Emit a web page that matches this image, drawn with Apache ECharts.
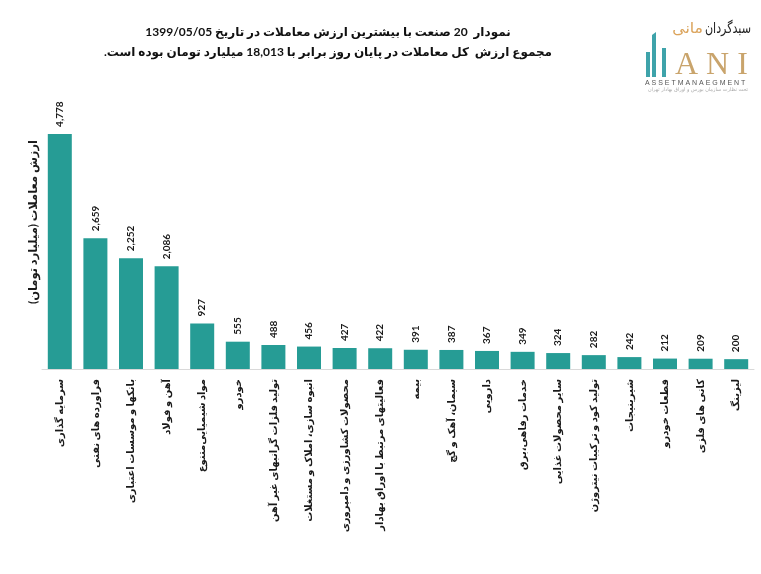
<!DOCTYPE html>
<html>
<head>
<meta charset="utf-8">
<script src="https://cdn.jsdelivr.net/npm/echarts@6/dist/echarts.min.js"></script>
<style>
html,body{margin:0;padding:0;background:#fff;}
#chart{width:761px;height:574px;}
</style>
</head>
<body>
<div id="chart"></div>
<script>
var RLM = '\u200F';
var titleLine1 = 'نمودار  20 صنعت با بیشترین ارزش معاملات در تاریخ 1399/05/05';
var titleLine2 = 'مجموع ارزش  کل معاملات در پایان روز برابر با 18,013 میلیارد تومان بوده است.';
var yAxisName = 'ارزش معاملات (میلیارد تومان)';
var categories = [
  'سرمایه گذاری',
  'فراورده های نفتی',
  'بانکها و موسسات اعتباری',
  'آهن و فولاد',
  'مواد شیمیایی‌متنوع',
  'خودرو',
  'تولید فلزات گرانبهای غیر آهن',
  'انبوه سازی، املاک و مستغلات',
  'محصولات کشاورزی و دامپروری',
  'فعالیتهای مرتبط با اوراق بهادار',
  'بیمه',
  'سیمان، آهک و گچ',
  'دارویی',
  'خدمات رفاهی،برق',
  'سایر محصولات غذایی',
  'تولید کود و ترکیبات نیتروژن',
  'شیرینیجات',
  'قطعات خودرو',
  'کانی های فلزی',
  'لیزینگ'
];
var values = [4778, 2659, 2252, 2086, 927, 555, 488, 456, 427, 422, 391, 387, 367, 349, 324, 282, 242, 212, 209, 200];

var FONT = 'Lato, "DejaVu Sans", sans-serif';
var chart = echarts.init(document.getElementById('chart'));
chart.setOption({
  backgroundColor: '#ffffff',
  animation: false,
  title: {
    text: titleLine1 + RLM + '\n' + titleLine2 + RLM,
    left: 323,
    top: 17,
    textAlign: 'center',
    textStyle: {
      fontFamily: FONT,
      fontSize: 12,
      fontWeight: 'bold',
      color: '#111',
      lineHeight: 20
    }
  },
  grid: { left: 42, right: 7, top: 123, height: 246 },
  xAxis: {
    type: 'category',
    data: categories,
    axisLine: { lineStyle: { color: '#d9d9d9', width: 1 } },
    axisTick: { show: false },
    axisLabel: {
      interval: 0,
      rotate: 90,
      margin: 10,
      fontFamily: FONT,
      fontSize: 10,
      fontWeight: 'bold',
      color: '#1a1a1a',
      formatter: function (v) { return v + RLM; }
    }
  },
  yAxis: {
    type: 'value',
    min: 0,
    max: 5000,
    show: false,
    splitLine: { show: false }
  },
  series: [{
    type: 'bar',
    data: values,
    barWidth: 24,
    itemStyle: { color: '#269c95' },
    label: {
      show: true,
      position: 'top',
      distance: 7,
      rotate: 90,
      align: 'left',
      verticalAlign: 'middle',
      fontFamily: FONT,
      fontSize: 10,
      fontWeight: 'bold',
      color: '#1a1a1a',
      formatter: function (p) { return p.value.toLocaleString('en-US'); }
    }
  }],
  graphic: [
    {
      type: 'text',
      x: 33, y: 222,
      rotation: Math.PI / 2,
      style: {
        text: yAxisName + RLM,
        fontFamily: FONT,
        fontSize: 11.5,
        fontWeight: 'bold',
        fill: '#1a1a1a',
        align: 'center',
        verticalAlign: 'middle'
      }
    },
    { type: 'rect', shape: { x: 646, y: 52, width: 4, height: 25 }, style: { fill: '#3ea3aa' } },
    { type: 'polygon', shape: { points: [[652, 35], [656, 32], [656, 77], [652, 77]] }, style: { fill: '#3ea3aa' } },
    { type: 'rect', shape: { x: 662, y: 48, width: 4, height: 29 }, style: { fill: '#3ea3aa' } },
    {
      type: 'text', x: 675, y: 66,
      style: { text: 'A N I', fontFamily: '"Liberation Serif", serif', fontSize: 32, fill: '#c9a46c', align: 'left', verticalAlign: 'middle' }
    },
    {
      type: 'text', x: 751, y: 29, scaleX: 0.74,
      style: { text: 'سبدگردان', fontFamily: '"DejaVu Sans", sans-serif', fontSize: 15, fill: '#222', align: 'right', verticalAlign: 'middle' }
    },
    {
      type: 'text', x: 703, y: 29, scaleX: 1.05,
      style: { text: 'مانی', fontFamily: '"DejaVu Sans", sans-serif', fontSize: 15, fill: '#dba35a', align: 'right', verticalAlign: 'middle' }
    },
    {
      type: 'text', x: 645, y: 83,
      style: { text: 'A S S E T M A N A E G M E N T', fontFamily: '"Liberation Sans", sans-serif', fontSize: 7, fill: '#555', align: 'left', verticalAlign: 'middle' }
    },
    {
      type: 'text', x: 748, y: 90,
      style: { text: 'تحت نظارت سازمان بورس و اوراق بهادار تهران' + RLM, fontFamily: '"DejaVu Sans", sans-serif', fontSize: 5, fill: '#aaa', align: 'right', verticalAlign: 'middle' }
    }
  ]
});
</script>
</body>
</html>
